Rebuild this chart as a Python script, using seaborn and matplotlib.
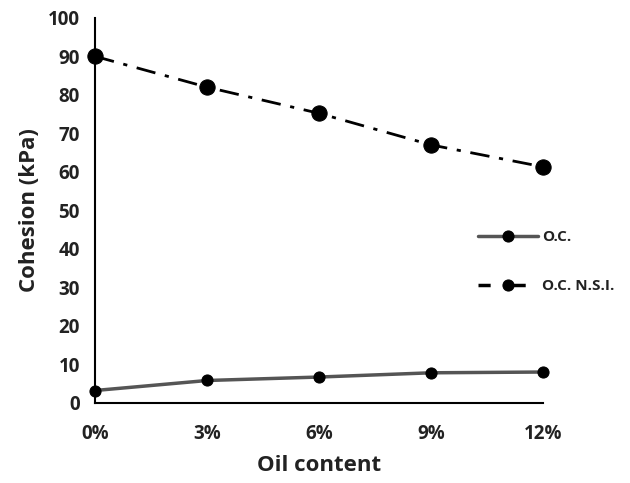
import matplotlib
matplotlib.use("Agg")
import matplotlib.pyplot as plt
import seaborn as sns
import pandas as pd

# values
oil_content = [0, 3, 6, 9, 12]
tick_labels = ['0%', '3%', '6%', '9%', '12%']
oc = [3.2, 5.8, 6.7, 7.8, 8.0]
oc_nsi = [90.0, 82.0, 75.2, 67.0, 61.3]

sns.set_style("white")
plt.rcParams['font.family'] = ['Open Sans', 'DejaVu Sans']
plt.rcParams['font.weight'] = 'bold'

df = pd.DataFrame({
    'oil': oil_content * 2,
    'cohesion': oc + oc_nsi,
    'series': ['O.C.'] * len(oc) + ['O.C. N.S.I.'] * len(oc_nsi),
})

fig = plt.figure(figsize=(6.3, 4.83), dpi=100)
ax = fig.add_axes([0.151, 0.166, 0.711, 0.797])

sns.lineplot(data=df[df['series'] == 'O.C.'], x='oil', y='cohesion', ax=ax,
             color='#555555', linewidth=2.5, marker='o', markersize=8,
             markerfacecolor='black', markeredgecolor='black', label='O.C.', clip_on=False)
sns.lineplot(data=df[df['series'] == 'O.C. N.S.I.'], x='oil', y='cohesion', ax=ax,
             color='black', linewidth=2, marker='o', markersize=11,
             markerfacecolor='black', markeredgecolor='black', label='O.C. N.S.I.',
             clip_on=False)
ax.lines[1].set_dashes([7, 3.5, 1.5, 3.5])

ax.set_xlim(0, 12)
ax.set_ylim(0, 100)
ax.set_xticks(oil_content)
ax.set_xticklabels(tick_labels)
ax.set_yticks(range(0, 101, 10))

for s in ['top', 'right']:
    ax.spines[s].set_visible(False)
for s in ['left', 'bottom']:
    ax.spines[s].set_color('black')
    ax.spines[s].set_linewidth(1.5)

ax.tick_params(axis='both', direction='out', length=6, width=1.5, color='black',
               labelsize=13.5, pad=5)
ax.tick_params(axis='x', pad=9)
for lbl in ax.get_xticklabels() + ax.get_yticklabels():
    lbl.set_fontweight('bold')
    lbl.set_color('#222222')

ax.set_xlabel('Oil content', fontsize=16, fontweight='bold', labelpad=8, color='#222222')
ax.set_ylabel('Cohesion (kPa)', fontsize=16, fontweight='bold', labelpad=6, color='#222222')

leg = ax.legend(loc='center left', bbox_to_anchor=(0.824, 0.366), frameon=False,
                handlelength=3.9, labelspacing=2.3, handletextpad=0.3, borderpad=0.4,
                prop={'weight': 'bold', 'size': 11})
for ln in leg.get_lines():
    ln.set_markersize(8)
nsi_handle = leg.get_lines()[1]
nsi_handle.set_linewidth(2.5)
nsi_handle.set_linestyle((0, (3.5, 6.6)))
for t in leg.get_texts():
    t.set_color('#222222')

fig.savefig('out.png', dpi=100)
